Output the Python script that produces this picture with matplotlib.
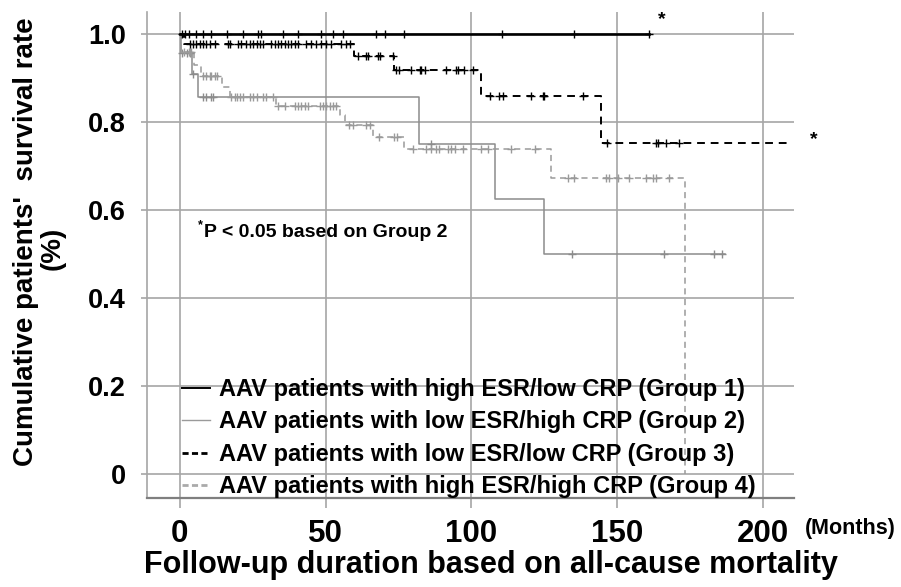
import numpy as np
import matplotlib
matplotlib.use("Agg")
import matplotlib.pyplot as plt
from matplotlib.lines import Line2D

plt.rcParams['font.family'] = ['Liberation Sans', 'DejaVu Sans']
plt.rcParams['font.weight'] = 'bold'

# Kaplan-Meier step data (months, survival)
g1_times = [0, 161.0]
g1_surv = [1.0, 1.0]
g1_end = 161.0
g1_cens = [0.6, 1.7, 3.1, 5.7, 7.9, 10.8, 16.1, 21.6, 26.7, 28.0, 35.3, 40.4,
           48.5, 52.4, 55.8, 67.4, 70.2, 77.0, 110.5, 135.0, 161.0]

g2_times = [0, 0.5, 4.3, 6.2, 82.0, 108.0, 124.8]
g2_surv = [1.0, 0.957, 0.91, 0.856, 0.75, 0.625, 0.499]
g2_end = 187.0
g2_cens = [0.6, 2.3, 3.4, 4.6, 8.0, 9.1, 10.8, 11.4, 86.0, 134.4, 166.1, 183.2, 186.0]

g3_times = [0, 1.5, 59.6, 73.6, 103.3, 144.4]
g3_surv = [1.0, 0.977, 0.951, 0.918, 0.859, 0.7515]
g3_end = 210.0
g3_cens = [3.4, 4.6, 5.7, 6.8, 8.0, 9.1, 10.3, 12.0, 16.6, 17.1, 20.0, 21.1, 22.8,
           24.0, 25.1, 26.3, 27.4, 28.5, 31.4, 32.5, 33.7, 34.8, 35.9, 37.1, 38.2,
           39.4, 40.5, 43.4, 45.1, 46.8, 48.5, 50.2, 52.0, 55.4, 57.1, 58.2,
           61.0, 64.0, 64.5, 68.0, 68.5, 73.0,
           74.2, 75.3, 79.3, 82.2, 82.8, 83.9, 91.3, 94.7, 95.3, 97.6, 100.5,
           106.2, 109.6, 110.7, 120.4, 124.4, 125.0, 138.1,
           146.5, 163.2, 164.1, 166.7, 171.0]

g4_times = [0, 0.5, 5.0, 7.4, 14.3, 17.1, 33.1, 54.8, 56.5, 66.2, 76.7, 127.3, 173.3]
g4_surv = [1.0, 0.96, 0.93, 0.905, 0.88, 0.857, 0.837, 0.815, 0.793, 0.767, 0.738, 0.672, 0.0]
g4_end = 173.3
g4_cens = [1.5, 3.0, 3.4, 4.0,
           8.0, 9.1, 10.3, 10.8, 12.0, 12.6,
           17.7, 18.8, 19.6, 20.5, 21.7, 24.0, 25.1, 26.3, 28.5, 29.7, 32.0,
           33.7, 35.9, 39.4, 40.5, 41.6, 42.8, 44.0, 48.0, 49.1, 50.2, 51.4, 52.5, 53.7,
           58.0, 59.4, 63.9, 65.3,
           68.3, 73.6, 74.4,
           79.9, 84.5, 86.2, 87.9, 89.0, 91.9, 93.0, 94.2, 97.0, 103.3, 105.6, 113.6, 121.9,
           133.0, 135.3, 146.1, 147.3, 150.1, 154.1, 159.8, 162.1, 163.2, 167.8]

labels = ['AAV patients with high ESR/low CRP (Group 1)',
          'AAV patients with low ESR/high CRP (Group 2)',
          'AAV patients with low ESR/low CRP (Group 3)',
          'AAV patients with high ESR/high CRP (Group 4)']

x_ticks = [0, 50, 100, 150, 200]
y_ticks = [0, 0.2, 0.4, 0.6, 0.8, 1.0]
y_ticklabels = ['0', '0.2', '0.4', '0.6', '0.8', '1.0']


def km_curve(ax, times, surv, end, cens, color, lw, ls):
    t = list(times) + [end]
    s = list(surv) + [surv[-1]]
    ax.step(t, s, where='post', color=color, lw=lw, linestyle=ls, zorder=3)
    idx = np.searchsorted(times, cens, side='right') - 1
    cs = np.array(surv)[idx]
    ax.plot(cens, cs, linestyle='none', marker='+', color=color,
            markersize=6, markeredgewidth=1.0, zorder=4)


fig = plt.figure(figsize=(9.01, 5.87), dpi=100)
ax = fig.add_axes([0.163, 0.1516, 0.718, 0.828])

grid_c = '#a6a6a6'
for x in x_ticks:
    ax.axvline(x, color=grid_c, lw=1.2, zorder=1)
for y in y_ticks:
    ax.axhline(y, color=grid_c, lw=1.2, zorder=1)

dash = (0, (4, 3))
km_curve(ax, g2_times, g2_surv, g2_end, g2_cens, '#8c8c8c', 1.1, '-')
km_curve(ax, g4_times, g4_surv, g4_end, g4_cens, '#9a9a9a', 1.1, dash)
km_curve(ax, g3_times, g3_surv, g3_end, g3_cens, 'black', 1.4, dash)
km_curve(ax, g1_times, g1_surv, g1_end, g1_cens, 'black', 1.9, '-')

ax.set_xlim(-11.3, 210.5)
ax.set_ylim(-0.0545, 1.05)
ax.set_xticks(x_ticks)
ax.set_yticks(y_ticks)
ax.set_yticklabels(y_ticklabels)
ax.tick_params(axis='x', length=7, width=1.2, color=grid_c, pad=8, labelsize=22.5)
ax.tick_params(axis='y', length=4, width=1.2, color=grid_c, pad=11, labelsize=19.5)

for side in ['top', 'right']:
    ax.spines[side].set_visible(False)
ax.spines['left'].set_color(grid_c)
ax.spines['left'].set_linewidth(1.2)
ax.spines['bottom'].set_color('#7f7f7f')
ax.spines['bottom'].set_linewidth(1.6)

# significance marks
ax.text(165.4, 1.032, '*', fontsize=14, ha='center', va='center')
ax.text(217.5, 0.759, '*', fontsize=14, ha='center', va='center', clip_on=False)
ax.text(6.9, 0.566, '*', fontsize=9, ha='center', va='center')
ax.text(8.3, 0.548, 'P < 0.05 based on Group 2', fontsize=14, ha='left', va='center')

handles = [Line2D([], [], color='black', lw=1.4, ls='-'),
           Line2D([], [], color='#9a9a9a', lw=1.0, ls='-'),
           Line2D([], [], color='black', lw=2.0, ls=(0, (2.2, 1.2))),
           Line2D([], [], color='#aaaaaa', lw=2.0, ls=(0, (2.2, 1.2)))]
ax.legend(handles, labels, loc='lower left', bbox_to_anchor=(0.036, -0.025),
          frameon=False, fontsize=17, handlelength=1.2, handletextpad=0.35,
          labelspacing=0.4, borderaxespad=0.1)

fig.text(0.029, 0.589, "Cumulative patients'  survival rate", rotation=90,
         fontsize=20, ha='center', va='center')
fig.text(0.058, 0.577, '(%)', rotation=90, fontsize=20, ha='center', va='center')
fig.text(0.545, 0.038, 'Follow-up duration based on all-cause mortality',
         fontsize=22, ha='center', va='center')
fig.text(0.944, 0.100, '(Months)', fontsize=15.5, ha='center', va='center')

fig.savefig('out.png', dpi=100)
